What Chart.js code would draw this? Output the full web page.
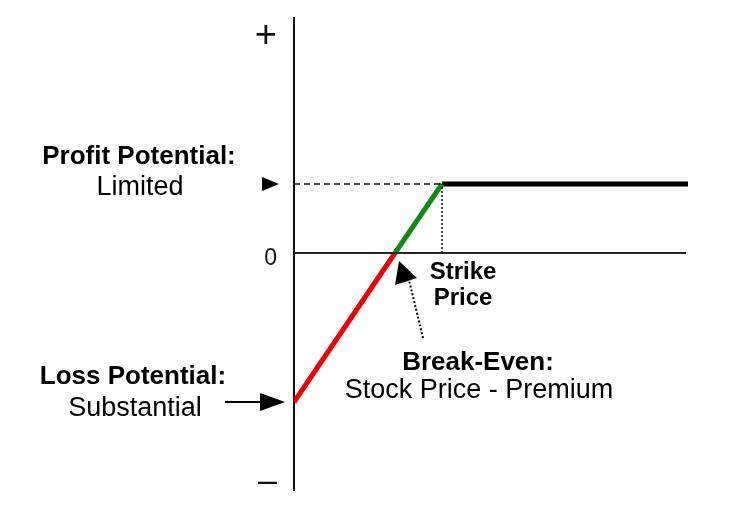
<!DOCTYPE html>
<html>
<head>
<meta charset="utf-8">
<script src="https://cdn.jsdelivr.net/npm/chart.js@4.4.1/dist/chart.umd.min.js"></script>
<style>
  html, body { margin: 0; padding: 0; background: #fff; }
  #wrap { width: 750px; height: 523px; }
</style>
</head>
<body>
<div id="wrap"><canvas id="payoff" width="750" height="523"></canvas></div>
<script>
// stock price axis (arbitrary units)
const priceRange = [0, 39.4];
const profitRange = [-23.7, 23.5];
const breakEven = 10.1;
const strike = 14.8;
const maxProfit = 6.9;
const lossAtZero = -14.9;

// payoff legs
const lossLeg = [{ x: 0, y: lossAtZero }, { x: breakEven, y: 0 }];
const gainLeg = [{ x: breakEven, y: 0 }, { x: strike, y: maxProfit }];
const flatLeg = [{ x: strike, y: maxProfit }, { x: priceRange[1], y: maxProfit }];

// guides
const zeroLine = [{ x: 0, y: 0 }, { x: 39.2, y: 0 }];
const profitGuide = [{ x: 0, y: maxProfit }, { x: strike, y: maxProfit }];
const strikeGuide = [{ x: strike, y: 0 }, { x: strike, y: maxProfit }];

// y tick labels
const yTickValues = [22.2, 0, -22.3];
const yTickLabels = ['+', '0', '\u2013'];

const REG = '"Liberation Sans", Arial, sans-serif';

function line(data, color, width, dash) {
  return {
    data: data,
    borderColor: color,
    borderWidth: width,
    borderDash: dash || [],
    borderCapStyle: 'butt',
    showLine: true,
    pointRadius: 0,
    fill: false
  };
}

const notes = {
  id: 'notes',
  afterDatasetsDraw(chart) {
    const ctx = chart.ctx;
    const xs = chart.scales.x;
    const ys = chart.scales.y;
    const left = chart.chartArea.left;
    const yMax = ys.getPixelForValue(maxProfit);
    const yLoss = ys.getPixelForValue(lossAtZero);
    const yZero = ys.getPixelForValue(0);
    const xBe = xs.getPixelForValue(breakEven);

    ctx.save();
    ctx.fillStyle = '#000';
    ctx.strokeStyle = '#000';

    // profit marker
    ctx.beginPath();
    ctx.moveTo(left - 32, yMax - 7);
    ctx.lineTo(left - 32, yMax + 7);
    ctx.lineTo(left - 15, yMax);
    ctx.closePath();
    ctx.fill();

    // loss arrow
    ctx.lineWidth = 2;
    ctx.beginPath();
    ctx.moveTo(left - 69, yLoss);
    ctx.lineTo(left - 30, yLoss);
    ctx.stroke();
    ctx.beginPath();
    ctx.moveTo(left - 34, yLoss - 9);
    ctx.lineTo(left - 34, yLoss + 9);
    ctx.lineTo(left - 9, yLoss);
    ctx.closePath();
    ctx.fill();

    // break-even arrow
    ctx.setLineDash([2, 2]);
    ctx.beginPath();
    ctx.moveTo(xBe + 28, yZero + 85);
    ctx.lineTo(xBe + 14, yZero + 27);
    ctx.stroke();
    ctx.setLineDash([]);
    ctx.beginPath();
    ctx.moveTo(xBe + 4, yZero + 8);
    ctx.lineTo(xBe, yZero + 32);
    ctx.lineTo(xBe + 22, yZero + 25);
    ctx.closePath();
    ctx.fill();

    ctx.textAlign = 'center';
    ctx.textBaseline = 'middle';
    const text = (s, x, y, size, bold) => {
      ctx.font = (bold ? 'bold ' : '') + size + 'px ' + REG;
      ctx.fillText(s, x, y);
    };
    text('Profit Potential:', 139, 157, 26, true);
    text('Limited', 140, 188, 27, false);
    text('Loss Potential:', 133, 377, 26, true);
    text('Substantial', 135, 409, 27, false);
    text('Strike', 463, 272, 24, true);
    text('Price', 463, 298, 24, true);
    text('Break-Even:', 478, 363, 26, true);
    text('Stock Price - Premium', 479, 391, 27, false);
    ctx.restore();
  }
};

new Chart(document.getElementById('payoff'), {
  type: 'scatter',
  data: {
    datasets: [
      line(zeroLine, '#222', 2),
      line(profitGuide, '#111', 1.5, [6, 4]),
      line(strikeGuide, '#111', 1.5, [2, 2]),
      line(lossLeg, '#f00000', 5),
      line(gainLeg, '#108a10', 5),
      line(flatLeg, '#000', 5)
    ]
  },
  options: {
    responsive: false,
    animation: false,
    layout: { padding: { left: 234, right: 62, top: 18, bottom: 33 } },
    plugins: { legend: { display: false }, tooltip: { enabled: false } },
    scales: {
      x: { type: 'linear', display: false, min: priceRange[0], max: priceRange[1] },
      y: {
        type: 'linear',
        min: profitRange[0],
        max: profitRange[1],
        grid: { display: false, drawTicks: false },
        border: { display: true, color: '#111', width: 2 },
        afterFit(scale) {
          scale.width = 60;
          scale.paddingTop = 0;
          scale.paddingBottom = 0;
        },
        afterBuildTicks(scale) { scale.ticks = yTickValues.map((v) => ({ value: v })); },
        ticks: {
          padding: 17,
          color: '#111',
          labelOffset: 6,
          autoSkip: false,
          font(c) {
            const i = c.index;
            return { family: REG, size: i === 0 ? 38 : (i === 2 ? 34 : 23) };
          },
          callback(value, index) { return yTickLabels[index]; }
        }
      }
    }
  },
  plugins: [notes]
});
</script>
</body>
</html>
